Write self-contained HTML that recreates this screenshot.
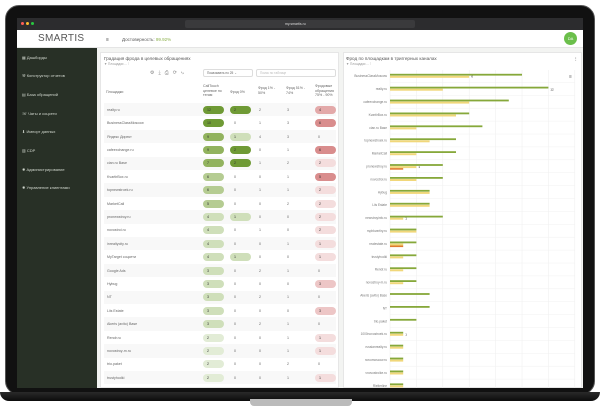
<!DOCTYPE html>
<html><head><meta charset="utf-8"><style>
*{margin:0;padding:0;box-sizing:border-box}
body{width:600px;height:406px;background:#fff;position:relative;overflow:hidden;font-family:"Liberation Sans","DejaVu Sans",sans-serif;}
.a{position:absolute}
.t{position:absolute;font-size:3.6px;color:#666;white-space:nowrap}
.pill{position:absolute;height:8px;border-radius:4px;font-size:3.6px;color:#333;padding-left:4px;line-height:8px}
.sb{position:absolute;left:22px;font-size:4px;color:#cfd5cc;white-space:nowrap}
</style></head><body>
<!-- laptop -->
<div class="a" style="left:5px;top:5px;width:590px;height:390px;background:#111;border-radius:14px;border:1px solid #555"></div>
<div class="a" style="left:0;top:392px;width:600px;height:9px;background:linear-gradient(#2a2a2a,#0c0c0c);border-radius:0 0 10px 10px"></div>
<div class="a" style="left:250px;top:399px;width:102px;height:7px;background:#bbb;border-radius:0 0 4px 4px"></div>
<!-- browser bar -->
<div class="a" style="left:17px;top:18px;width:566px;height:12px;background:#2c2c2e"></div>
<div class="a" style="left:21px;top:22px;width:3px;height:3px;border-radius:50%;background:#ff5f57"></div>
<div class="a" style="left:26px;top:22px;width:3px;height:3px;border-radius:50%;background:#febc2e"></div>
<div class="a" style="left:31px;top:22px;width:3px;height:3px;border-radius:50%;background:#28c840"></div>
<div class="a" style="left:185px;top:20px;width:230px;height:8px;background:#3a3a3c;border-radius:2px"></div>
<div class="t" style="left:285px;top:22px;color:#ddd;font-size:3.5px">my.smartis.ru</div>
<!-- header -->
<div class="a" style="left:17px;top:30px;width:566px;height:18px;background:#fff;border-bottom:1px solid #e5e5e5"></div>
<div class="t" style="left:38px;top:33px;font-size:10px;color:#555;letter-spacing:.3px">SMARTIS</div>
<div class="t" style="left:106px;top:37px;font-size:5px;color:#444">≡</div>
<div class="t" style="left:122px;top:37px;font-size:4.5px;color:#555">Достоверность: <span style="color:#8bb04a">99.92%</span></div>
<div class="a" style="left:564px;top:32px;width:13px;height:13px;border-radius:50%;background:#6bbf4b;color:#fff;font-size:4px;text-align:center;line-height:13px">DA</div>
<!-- sidebar -->
<div class="a" style="left:17px;top:48px;width:80px;height:340px;background:#283026"></div>
<div class="sb" style="top:55px">▦ Дашборды</div>
<div class="sb" style="top:73px">⚒ Конструктор отчетов</div>
<div class="sb" style="top:92px">▤ База обращений</div>
<div class="sb" style="top:111px">☏ Чаты и соцсети</div>
<div class="sb" style="top:129px">⬇ Импорт данных</div>
<div class="sb" style="top:148px">▥ CDP</div>
<div class="sb" style="top:167px">✹ Администрирование</div>
<div class="sb" style="top:185px">✹ Управление клиентами</div>
<!-- content bg -->
<div class="a" style="left:97px;top:48px;width:486px;height:340px;background:#f3f4f2"></div>
<div class="a" style="left:100px;top:52px;width:239px;height:336px;background:#fff;border:1px solid #e6e6e6"></div>
<div class="a" style="left:343px;top:52px;width:239px;height:336px;background:#fff;border:1px solid #e6e6e6"></div>
<div class="t" style="left:104px;top:56px;font-size:4.6px;color:#555">Градация фрода в целевых обращениях</div>
<div class="t" style="left:104px;top:62px;font-size:3.2px;color:#999">▼ Площадки ... ⁝</div>
<div class="t" style="left:346px;top:56px;font-size:4.6px;color:#555">Фрод по площадкам в триггерных каналах</div>
<div class="t" style="left:346px;top:62px;font-size:3.2px;color:#999">▼ Площадки ... ⁝</div>
<div class="t" style="left:150px;top:70px;font-size:5px;color:#888;letter-spacing:4px">⚙⤓⎙⟳⤷</div>
<div class="a" style="left:203px;top:69px;width:50px;height:8px;border:1px solid #ddd;border-radius:2px"></div>
<div class="t" style="left:207px;top:71px;font-size:3.2px">Показывать по 25 ⌄</div>
<div class="a" style="left:256px;top:69px;width:80px;height:8px;border:1px solid #ddd;border-radius:2px"></div>
<div class="t" style="left:260px;top:71px;font-size:3.2px;color:#bbb">Поиск по таблице</div>
<div class="t" style="left:106px;top:90px">Площадки</div>
<div class="t" style="left:203px;top:84px;line-height:4.5px">CallTouch<br>целевое по<br>тегам</div>
<div class="t" style="left:230px;top:90px">Фрод 0%</div>
<div class="t" style="left:258px;top:86px;line-height:4.5px">Фрод 1% -<br>50%</div>
<div class="t" style="left:286px;top:86px;line-height:4.5px">Фрод 51% -<br>74%</div>
<div class="t" style="left:315px;top:84px;line-height:4.5px">Фродовые<br>обращения<br>75% - 90%</div>
<div id="tbl"></div>
<svg class="a" style="left:343px;top:52px" width="239" height="336" id="ch"></svg>
<script>
var rows=[["realty.ru",12,2,2,3,4],["BusinessClassMoscow",10,0,1,3,6],["Яндекс Директ",9,1,4,3,0],["cafeexchange.ru",9,2,0,1,6],["cian.ru Base",7,2,1,2,2],["KvartirBox.ru",6,0,0,1,5],["topnewstroek.ru",6,0,1,1,2],["MarketCall",5,0,0,2,2],["pronewstroy.ru",4,1,0,0,2],["novostroi.ru",4,0,1,0,2],["inrealtycity.ru",4,0,0,1,1],["MyTarget соцсети",4,1,0,0,1],["Google Ads",3,0,2,1,0],["Hybug",3,0,0,0,3],["NT",3,0,2,1,0],["Liis Estate",3,0,0,0,3],["Akeris (avito) Base",3,0,2,1,0],["Rendr.ru",2,0,0,1,1],["novostroy-m.ru",2,0,0,1,1],["trio.paket",2,0,0,2,0],["trustyhodki",2,0,0,1,1]];
var h="";
function gc(v){return v>=10?"#6f9a35":v>=7?"#92b35e":v>=5?"#b5cc92":v>=3?"#cfdfba":"#e2ecd6"}
function rc(v){return v>=5?"#d98d8d":v>=4?"#e3a9a9":v>=3?"#edc6c6":"#f4dddd"}
rows.forEach(function(r,i){var y=103+i*13.4;
if(i%2==0)h+='<div class="a" style="left:104px;top:'+y+'px;width:232px;height:13.4px;background:#f8f8f8"></div>';
var c=y+6.7;
h+='<div class="t" style="left:107px;top:'+(c-2)+'px">'+r[0]+'</div>';
h+='<div class="pill" style="left:203px;top:'+(c-4)+'px;width:21px;background:'+gc(r[1])+'">'+r[1]+'</div>';
if(r[2]>0)h+='<div class="pill" style="left:230px;top:'+(c-4)+'px;width:21px;background:'+(r[2]>=2?"#6f9a35":"#cfdfba")+'">'+r[2]+'</div>';else h+='<div class="t" style="left:234px;top:'+(c-2)+'px">0</div>';
h+='<div class="t" style="left:259px;top:'+(c-2)+'px">'+r[3]+'</div>';
h+='<div class="t" style="left:287px;top:'+(c-2)+'px">'+r[4]+'</div>';
if(r[5]>0)h+='<div class="pill" style="left:315px;top:'+(c-4)+'px;width:21px;background:'+rc(r[5])+'">'+r[5]+'</div>';else h+='<div class="t" style="left:318px;top:'+(c-2)+'px">0</div>';
});
document.getElementById('tbl').innerHTML=h;
var d=[["BusinessClassMoscow",10,6,0,"6"],["realty.ru",12,4,0,"12"],["cafeexchange.ru",9,6,0],["KvartirBox.ru",6,5,0],["cian.ru Base",7,2,0],["topnewstroek.ru",5,3,0],["MarketCall",5,2,0],["pronewstroy.ru",4,2,1,"1"],["novostroi.ru",4,2,0],["Hybug",3,3,0],["Liis Estate",3,3,0],["newstroyinfo.ru",4,1,0,"1"],["rspbkvartiry.ru",2,2,0],["realestate.ru",2,1,1],["trustyhodki",2,1,0],["Rendr.ru",2,1,0],["novostroy-m.ru",2,1,0],["Akeris (avito) Base",3,0,0],["NT",3,0,0],["trio.paket",2,0,0],["1000novostroek.ru",1,1,0,"1"],["russianrealty.ru",1,1,0],["novomoscow.ru",1,1,0],["vnovostroike.ru",1,1,0],["Rielterline",1,1,0]];
var s="",x0=47,u=13.2;
for(var g=0;g<=7;g++)s+='<line x1="'+(x0+g*26.4)+'" y1="18" x2="'+(x0+g*26.4)+'" y2="336" stroke="#eee" stroke-width="0.5"/>';
d.forEach(function(r,i){var c=24+i*12.9;
s+='<line x1="'+x0+'" y1="'+(c+6.4)+'" x2="232" y2="'+(c+6.4)+'" stroke="#f0f0f0" stroke-width="0.5"/>';
s+='<text x="44" y="'+(c+1.2)+'" font-size="3.2" fill="#777" text-anchor="end">'+r[0]+'</text>';
s+='<rect x="'+x0+'" y="'+(c-2.2)+'" width="'+r[1]*u+'" height="1.8" fill="#86a83a"/>';
if(r[2])s+='<rect x="'+x0+'" y="'+(c-0.2)+'" width="'+r[2]*u+'" height="2" fill="#f1d77a"/>';
if(r[3])s+='<rect x="'+x0+'" y="'+(c+1.8)+'" width="'+r[3]*u+'" height="1.6" fill="#e07b2e"/>';
if(r[4])s+='<text x="'+(x0+(r[4]=="12"?r[1]:Math.max(r[2],r[3]))*u+2)+'" y="'+(c+1.5)+'" font-size="3" fill="#222">'+r[4]+'</text>';
});
s+='<text x="226" y="26" font-size="5" fill="#666">≡</text><text x="232" y="9" font-size="5" fill="#666">⁝</text>';
document.getElementById('ch').innerHTML=s;
</script>
</body></html>
